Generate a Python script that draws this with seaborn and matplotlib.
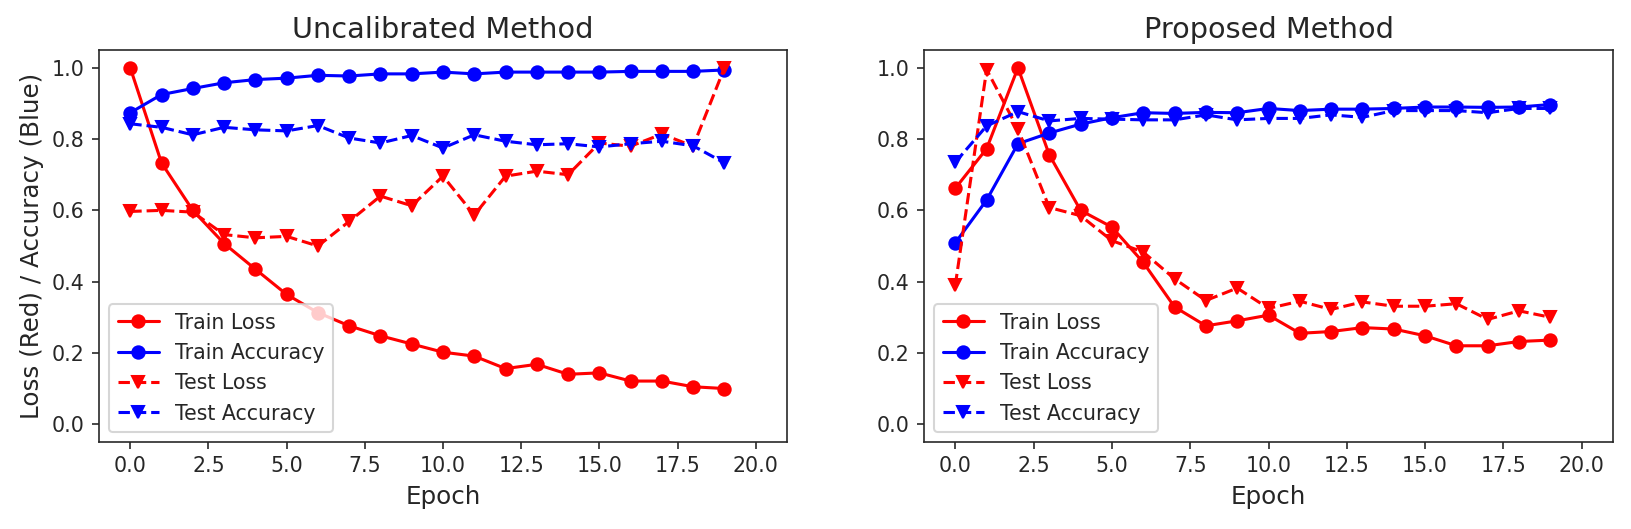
import numpy as np
import pandas as pd
import matplotlib
matplotlib.use("Agg")
import matplotlib.pyplot as plt
import seaborn as sns

epochs = list(range(20))

# Uncalibrated method
unc_train_loss = [1.00, 0.733, 0.600, 0.507, 0.435, 0.364, 0.313, 0.276, 0.248, 0.225,
                  0.202, 0.191, 0.156, 0.168, 0.140, 0.144, 0.121, 0.121, 0.105, 0.100]
unc_train_acc = [0.874, 0.925, 0.942, 0.958, 0.967, 0.971, 0.979, 0.977, 0.983, 0.983,
                 0.988, 0.983, 0.988, 0.988, 0.988, 0.988, 0.990, 0.990, 0.990, 0.994]
unc_test_loss = [0.597, 0.600, 0.595, 0.532, 0.523, 0.527, 0.500, 0.569, 0.640, 0.613,
                 0.696, 0.587, 0.696, 0.710, 0.700, 0.789, 0.780, 0.814, 0.780, 1.000]
unc_test_acc = [0.843, 0.833, 0.812, 0.833, 0.826, 0.823, 0.838, 0.803, 0.789, 0.810,
                0.775, 0.812, 0.794, 0.784, 0.787, 0.778, 0.787, 0.794, 0.781, 0.733]

# Proposed method
prop_train_loss = [0.662, 0.773, 1.000, 0.756, 0.600, 0.553, 0.454, 0.329, 0.276, 0.290,
                   0.306, 0.255, 0.260, 0.271, 0.267, 0.248, 0.220, 0.220, 0.232, 0.236]
prop_train_acc = [0.509, 0.629, 0.787, 0.817, 0.842, 0.860, 0.874, 0.872, 0.875, 0.874,
                  0.886, 0.880, 0.884, 0.884, 0.886, 0.890, 0.890, 0.889, 0.890, 0.897]
prop_test_loss = [0.390, 0.995, 0.828, 0.608, 0.585, 0.515, 0.483, 0.408, 0.347, 0.382,
                  0.325, 0.345, 0.322, 0.343, 0.331, 0.331, 0.338, 0.294, 0.318, 0.300]
prop_test_acc = [0.735, 0.837, 0.877, 0.851, 0.858, 0.856, 0.854, 0.854, 0.868, 0.854,
                 0.858, 0.858, 0.868, 0.861, 0.880, 0.880, 0.880, 0.874, 0.886, 0.886]

titles = ["Uncalibrated Method", "Proposed Method"]
series_labels = ["Train Loss", "Train Accuracy", "Test Loss", "Test Accuracy"]

sns.set_style("ticks")
plt.rcParams["font.family"] = ["DejaVu Sans"]
plt.rcParams["text.color"] = "#262626"
plt.rcParams["axes.labelcolor"] = "#262626"
plt.rcParams["xtick.color"] = "#262626"
plt.rcParams["ytick.color"] = "#262626"
plt.rcParams["axes.edgecolor"] = "#262626"
plt.rcParams["xtick.major.size"] = 3.5
plt.rcParams["ytick.major.size"] = 3.5

dpi = 148
fig = plt.figure(figsize=(1631 / dpi, 529 / dpi), dpi=dpi)
ax_left = fig.add_axes([99 / 1631, 87 / 529, 688 / 1631, 392 / 529])
ax_right = fig.add_axes([924 / 1631, 87 / 529, 689 / 1631, 392 / 529])

panels = [
    (ax_left, [unc_train_loss, unc_train_acc, unc_test_loss, unc_test_acc]),
    (ax_right, [prop_train_loss, prop_train_acc, prop_test_loss, prop_test_acc]),
]
styles = [("red", "o", "-"), ("blue", "o", "-"), ("red", "v", "--"), ("blue", "v", "--")]

for i, (ax, series) in enumerate(panels):
    for vals, label, (color, marker, ls) in zip(series, series_labels, styles):
        sns.lineplot(
            x=epochs, y=vals, ax=ax, color=color, marker=marker, linestyle=ls,
            markersize=6, markeredgecolor=color, markeredgewidth=1.0,
            linewidth=1.5, label=label, legend=False,
        )
    ax.set_xlim(-1, 21)
    ax.set_ylim(-0.05, 1.05)
    ax.set_xticks(np.arange(0, 20.1, 2.5))
    ax.set_xticklabels([f"{t:.1f}" for t in np.arange(0, 20.1, 2.5)])
    ax.set_yticks(np.arange(0, 1.01, 0.2))
    ax.set_yticklabels([f"{t:.1f}" for t in np.arange(0, 1.01, 0.2)])
    ax.set_title(titles[i], fontsize=14)
    ax.set_xlabel("Epoch", fontsize=12)
    ax.tick_params(labelsize=10)
    ax.legend(loc="lower left", fontsize=10, framealpha=0.8)
    for sp in ax.spines.values():
        sp.set_visible(True)

ax_left.set_ylabel("Loss (Red) / Accuracy (Blue)", fontsize=12)
ax_right.set_ylabel("")

fig.savefig("out.png", dpi=dpi)
